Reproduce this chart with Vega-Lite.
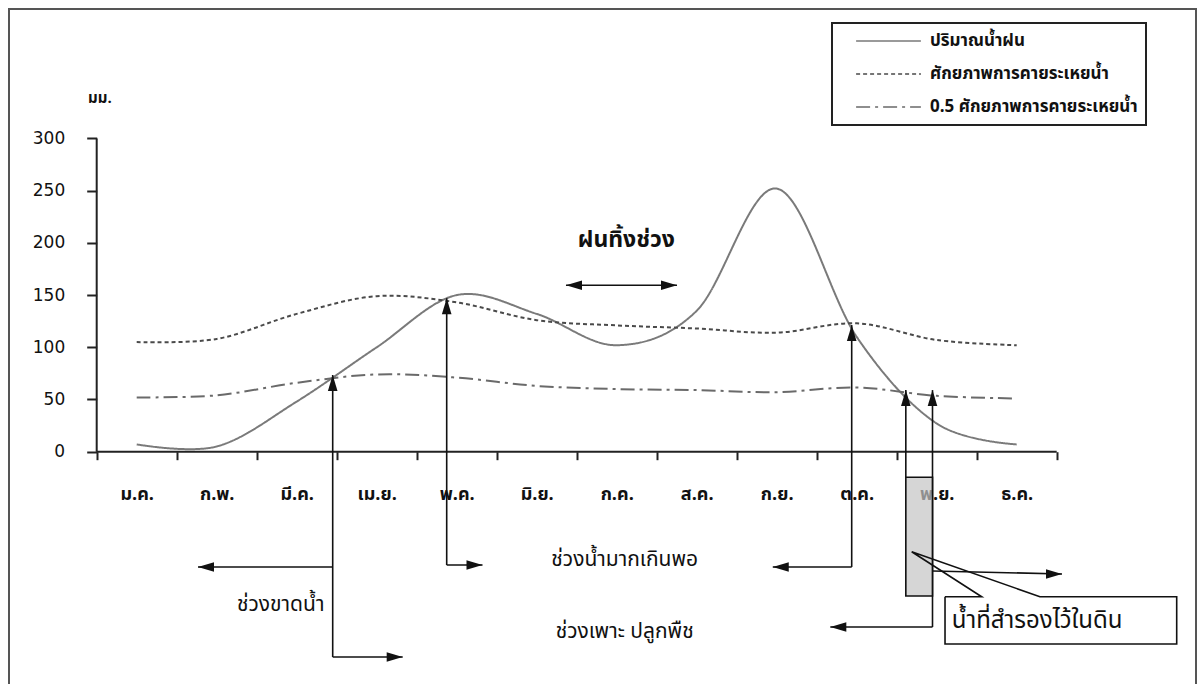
{
  "$schema": "https://vega.github.io/schema/vega-lite/v6.json",
  "width": 1187,
  "height": 675,
  "autosize": {"type": "none"},
  "padding": {"left": 9, "top": 9, "right": 1, "bottom": 0},
  "background": "white",
  "config": {
    "view": {"stroke": "#555555", "strokeWidth": 2, "strokeDash": [1862, 1187, 676, 0]},
    "font": "Tahoma, 'Noto Sans Thai', 'DejaVu Sans', sans-serif",
    "legend": {"strokeWidth": 2}
  },
  "datasets": {
    "series": [
      {"x": 0.5, "y": 7, "s": "ปริมาณน้ำฝน"},
      {"x": 1.5, "y": 5, "s": "ปริมาณน้ำฝน"},
      {"x": 2.5, "y": 48, "s": "ปริมาณน้ำฝน"},
      {"x": 3.5, "y": 100, "s": "ปริมาณน้ำฝน"},
      {"x": 4.5, "y": 150, "s": "ปริมาณน้ำฝน"},
      {"x": 5.5, "y": 132, "s": "ปริมาณน้ำฝน"},
      {"x": 6.5, "y": 102, "s": "ปริมาณน้ำฝน"},
      {"x": 7.5, "y": 135, "s": "ปริมาณน้ำฝน"},
      {"x": 8.5, "y": 252, "s": "ปริมาณน้ำฝน"},
      {"x": 9.5, "y": 110, "s": "ปริมาณน้ำฝน"},
      {"x": 10.5, "y": 27, "s": "ปริมาณน้ำฝน"},
      {"x": 11.5, "y": 7, "s": "ปริมาณน้ำฝน"},
      {"x": 0.5, "y": 105, "s": "ศักยภาพการคายระเหยน้ำ"},
      {"x": 1.5, "y": 108, "s": "ศักยภาพการคายระเหยน้ำ"},
      {"x": 2.5, "y": 132, "s": "ศักยภาพการคายระเหยน้ำ"},
      {"x": 3.5, "y": 149, "s": "ศักยภาพการคายระเหยน้ำ"},
      {"x": 4.5, "y": 143, "s": "ศักยภาพการคายระเหยน้ำ"},
      {"x": 5.5, "y": 126, "s": "ศักยภาพการคายระเหยน้ำ"},
      {"x": 6.5, "y": 121, "s": "ศักยภาพการคายระเหยน้ำ"},
      {"x": 7.5, "y": 118, "s": "ศักยภาพการคายระเหยน้ำ"},
      {"x": 8.5, "y": 114, "s": "ศักยภาพการคายระเหยน้ำ"},
      {"x": 9.5, "y": 123, "s": "ศักยภาพการคายระเหยน้ำ"},
      {"x": 10.5, "y": 107, "s": "ศักยภาพการคายระเหยน้ำ"},
      {"x": 11.5, "y": 102, "s": "ศักยภาพการคายระเหยน้ำ"},
      {"x": 0.5, "y": 52, "s": "0.5 ศักยภาพการคายระเหยน้ำ"},
      {"x": 1.5, "y": 54, "s": "0.5 ศักยภาพการคายระเหยน้ำ"},
      {"x": 2.5, "y": 66, "s": "0.5 ศักยภาพการคายระเหยน้ำ"},
      {"x": 3.5, "y": 74, "s": "0.5 ศักยภาพการคายระเหยน้ำ"},
      {"x": 4.5, "y": 71, "s": "0.5 ศักยภาพการคายระเหยน้ำ"},
      {"x": 5.5, "y": 63, "s": "0.5 ศักยภาพการคายระเหยน้ำ"},
      {"x": 6.5, "y": 60, "s": "0.5 ศักยภาพการคายระเหยน้ำ"},
      {"x": 7.5, "y": 59, "s": "0.5 ศักยภาพการคายระเหยน้ำ"},
      {"x": 8.5, "y": 57, "s": "0.5 ศักยภาพการคายระเหยน้ำ"},
      {"x": 9.5, "y": 61.5, "s": "0.5 ศักยภาพการคายระเหยน้ำ"},
      {"x": 10.5, "y": 53.5, "s": "0.5 ศักยภาพการคายระเหยน้ำ"},
      {"x": 11.5, "y": 51, "s": "0.5 ศักยภาพการคายระเหยน้ำ"}
    ],
    "axislines": [
      {"x": 0, "y": 0, "x2": 0, "y2": 300},
      {"x": 0, "y": 0, "x2": 12, "y2": 0}
    ],
    "segments": [
      {"x": 2.95, "y": -196.6, "x2": 2.95, "y2": 73.5},
      {"x": 2.95, "y": -110.4, "x2": 1.266, "y2": -110.4},
      {"x": 2.95, "y": -196.6, "x2": 3.825, "y2": -196.6},
      {"x": 4.375, "y": -108.5, "x2": 4.375, "y2": 147},
      {"x": 4.375, "y": -108.5, "x2": 4.8225, "y2": -108.5},
      {"x": 9.4375, "y": -110.4, "x2": 9.4375, "y2": 121.3},
      {"x": 9.4375, "y": -110.4, "x2": 8.451, "y2": -110.4},
      {"x": 10.114, "y": -24.5, "x2": 10.114, "y2": 59},
      {"x": 10.4475, "y": -167.9, "x2": 10.4475, "y2": 59},
      {"x": 10.4475, "y": -167.9, "x2": 9.17, "y2": -167.9},
      {"x": 10.4475, "y": -114.3, "x2": 12.066, "y2": -117.1},
      {"x": 5.866, "y": 159.5, "x2": 7.254, "y2": 159.5}
    ],
    "heads": [
      {"x": 2.95, "y": 73.5, "dir": "up"},
      {"x": 1.266, "y": -110.4, "dir": "left"},
      {"x": 3.825, "y": -196.6, "dir": "right"},
      {"x": 4.375, "y": 147, "dir": "up"},
      {"x": 4.8225, "y": -108.5, "dir": "right"},
      {"x": 9.4375, "y": 121.3, "dir": "up"},
      {"x": 8.451, "y": -110.4, "dir": "left"},
      {"x": 10.114, "y": 59, "dir": "up"},
      {"x": 10.4475, "y": 59, "dir": "up"},
      {"x": 9.17, "y": -167.9, "dir": "left"},
      {"x": 12.066, "y": -117.1, "dir": "right"},
      {"x": 5.866, "y": 159.5, "dir": "left"},
      {"x": 7.254, "y": 159.5, "dir": "right"}
    ],
    "storage": [
      {"x": 10.114, "y": -24.5, "x2": 10.4475, "y2": -138.2}
    ],
    "callout": [
      {"o": 1, "x": 10.604, "y": -138.9},
      {"o": 2, "x": 11.0625, "y": -138.9},
      {"o": 3, "x": 10.1875, "y": -95.8},
      {"o": 4, "x": 11.79, "y": -138.9},
      {"o": 5, "x": 13.5, "y": -138.9},
      {"o": 6, "x": 13.5, "y": -184.2},
      {"o": 7, "x": 10.604, "y": -184.2},
      {"o": 8, "x": 10.604, "y": -138.9}
    ],
    "texts": [
      {"x": 0.04, "y": 338.8, "label": "มม.", "kind": "unit"},
      {"x": 6.62, "y": 202.8, "label": "ฝนทิ้งช่วง", "kind": "big"},
      {"x": 6.6, "y": -103.7, "label": "ช่วงน้ำมากเกินพอ", "kind": "mid"},
      {"x": 2.3, "y": -146.8, "label": "ช่วงขาดน้ำ", "kind": "mid"},
      {"x": 6.6, "y": -172.7, "label": "ช่วงเพาะ ปลูกพืช", "kind": "mid"},
      {"x": 11.755, "y": -162.2, "label": "น้ำที่สำรองไว้ในดิน", "kind": "callout"}
    ]
  },
  "encoding": {
    "x": {
      "field": "x",
      "type": "quantitative",
      "scale": {"domain": [-1.09625, 13.74125], "nice": false, "zero": false},
      "axis": {
        "orient": "bottom",
        "offset": -232.3,
        "title": null,
        "domain": false,
        "grid": false,
        "values": [0, 1, 2, 3, 4, 5, 6, 7, 8, 9, 10, 11, 12],
        "labelExpr": "datum.value >= 12 ? '' : ['ม.ค.','ก.พ.','มี.ค.','เม.ย.','พ.ค.','มิ.ย.','ก.ค.','ส.ค.','ก.ย.','ต.ค.','พ.ย.','ธ.ค.'][datum.value]",
        "labelOffset": 40,
        "labelPadding": 26,
        "labelFlush": false,
        "labelOverlap": false,
        "labelBaseline": "top",
        "labelFontSize": 18,
        "labelFontWeight": "bold",
        "labelColor": "#111111",
        "tickSize": 8,
        "tickWidth": 2,
        "tickColor": "#222222"
      }
    },
    "y": {
      "field": "y",
      "type": "quantitative",
      "scale": {"domain": [-222.51, 424.04], "nice": false, "zero": false},
      "axis": {
        "orient": "left",
        "offset": -87.7,
        "title": null,
        "domain": false,
        "grid": false,
        "values": [0, 50, 100, 150, 200, 250, 300],
        "labelPadding": 22,
        "labelFont": "DejaVu Sans",
        "labelFontSize": 17,
        "labelColor": "#111111",
        "tickSize": 10,
        "tickWidth": 2,
        "tickColor": "#222222"
      }
    }
  },
  "layer": [
    {
      "data": {"name": "series"},
      "mark": {"type": "line", "interpolate": "cardinal", "strokeWidth": 2},
      "encoding": {
        "color": {
          "field": "s",
          "type": "nominal",
          "title": null,
          "scale": {
            "domain": ["ปริมาณน้ำฝน", "ศักยภาพการคายระเหยน้ำ", "0.5 ศักยภาพการคายระเหยน้ำ"],
            "range": ["#7a7a7a", "#4a4a4a", "#6a6a6a"]
          },
          "legend": {
            "orient": "none",
            "legendX": 823,
            "legendY": 14,
            "padding": 8,
            "strokeColor": "#222222",
            "fillColor": "white",
            "symbolType": "stroke",
            "symbolSize": 4200,
            "symbolStrokeWidth": 1.5,
            "symbolOffset": 15,
            "clipHeight": 20,
            "labelOffset": 8,
            "labelFontSize": 17,
            "labelFontWeight": "bold",
            "labelColor": "#111111",
            "labelLimit": 500,
            "rowPadding": 13
          }
        },
        "strokeDash": {
          "field": "s",
          "type": "nominal",
          "title": null,
          "scale": {
            "domain": ["ปริมาณน้ำฝน", "ศักยภาพการคายระเหยน้ำ", "0.5 ศักยภาพการคายระเหยน้ำ"],
            "range": [[1, 0], [4, 3], [14, 5, 3, 5]]
          }
        }
      }
    },
    {
      "data": {"name": "axislines"},
      "mark": {"type": "rule", "color": "#222222", "strokeWidth": 2},
      "encoding": {"x2": {"field": "x2"}, "y2": {"field": "y2"}}
    },
    {
      "data": {"name": "segments"},
      "mark": {"type": "rule", "color": "#111111", "strokeWidth": 1.6},
      "encoding": {"x2": {"field": "x2"}, "y2": {"field": "y2"}}
    },
    {
      "data": {"name": "heads"},
      "transform": [{"filter": "datum.dir == 'up'"}],
      "mark": {"type": "point", "filled": true, "color": "#111111", "opacity": 1, "size": 256, "shape": "M0,-1L-0.6,1L0.6,1Z", "yOffset": 8}
    },
    {
      "data": {"name": "heads"},
      "transform": [{"filter": "datum.dir == 'left'"}],
      "mark": {"type": "point", "filled": true, "color": "#111111", "opacity": 1, "size": 256, "shape": "M-1,0L1,-0.6L1,0.6Z", "xOffset": 8}
    },
    {
      "data": {"name": "heads"},
      "transform": [{"filter": "datum.dir == 'right'"}],
      "mark": {"type": "point", "filled": true, "color": "#111111", "opacity": 1, "size": 256, "shape": "M1,0L-1,-0.6L-1,0.6Z", "xOffset": -8}
    },
    {
      "data": {"name": "storage"},
      "mark": {"type": "rect", "fill": "#c4c4c4", "fillOpacity": 0.7, "stroke": "#111111", "strokeWidth": 1.6},
      "encoding": {"x2": {"field": "x2"}, "y2": {"field": "y2"}}
    },
    {
      "data": {"name": "callout"},
      "mark": {"type": "line", "color": "#111111", "strokeWidth": 1.6},
      "encoding": {"order": {"field": "o", "type": "quantitative"}}
    },
    {
      "data": {"name": "texts"},
      "transform": [{"filter": "datum.kind == 'unit'"}],
      "mark": {"type": "text", "fontSize": 15, "fontWeight": "bold", "color": "#111111"},
      "encoding": {"text": {"field": "label"}}
    },
    {
      "data": {"name": "texts"},
      "transform": [{"filter": "datum.kind == 'big'"}],
      "mark": {"type": "text", "fontSize": 23, "fontWeight": "bold", "color": "#111111"},
      "encoding": {"text": {"field": "label"}}
    },
    {
      "data": {"name": "texts"},
      "transform": [{"filter": "datum.kind == 'mid'"}],
      "mark": {"type": "text", "fontSize": 21, "color": "#111111"},
      "encoding": {"text": {"field": "label"}}
    },
    {
      "data": {"name": "texts"},
      "transform": [{"filter": "datum.kind == 'callout'"}],
      "mark": {"type": "text", "fontSize": 24, "color": "#111111"},
      "encoding": {"text": {"field": "label"}}
    }
  ]
}
